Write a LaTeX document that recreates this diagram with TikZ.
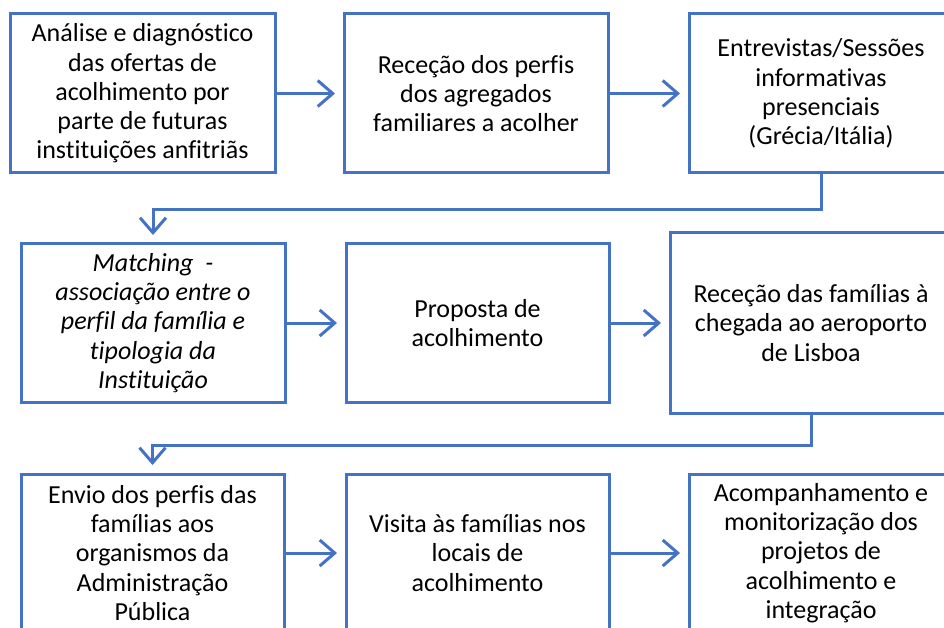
\documentclass[tikz,border=0pt]{standalone}
\usepackage{fontspec}
\setmainfont{Carlito}[Ligatures=NoCommon]
\usetikzlibrary{arrows.meta}
\definecolor{azul}{HTML}{4472C4}

\begin{document}
\begin{tikzpicture}[x=1pt, y=-1pt,
    etapa/.style={draw=azul, line width=3pt, align=center, inner sep=0pt,
      font=\fontsize{26}{29.3}\selectfont},
    seta/.style={draw=azul, line width=3pt, shorten >=7.5pt,
      -{Straight Barb[length=15pt,width=26pt]}}]
  \useasboundingbox (0,0) rectangle (944,628);
  \clip (0,0) rectangle (944,628);
  % primeira linha
  \node[etapa, minimum width=265pt, minimum height=159pt] (b1) at (142.5,93.5)
    {Análise e diagnóstico\\das ofertas de\\acolhimento por\\parte de futuras\\instituições anfitriãs};
  \node[etapa, minimum width=264pt, minimum height=159pt] (b2) at (476,93.5)
    {Receção dos perfis\\dos agregados\\familiares a acolher};
  \node[etapa, minimum width=264pt, minimum height=159pt] (b3) at (821,93.5)
    {Entrevistas/Sessões\\informativas\\presenciais\\(Grécia/Itália)};
  % segunda linha
  \node[etapa, minimum width=264pt, minimum height=158pt] (b4) at (153,323)
    {\itshape Matching~ -\\\itshape associação entre o\\\itshape perfil da família e\\\itshape tipologia da\\\itshape Instituição};
  \node[etapa, minimum width=263pt, minimum height=158pt] (b5) at (477.5,323)
    {Proposta de\\acolhimento};
  \node[etapa, minimum width=282pt, minimum height=180pt] (b6) at (811,323)
    {Receção das famílias à\\chegada ao aeroporto\\de Lisboa};
  % terceira linha
  \node[etapa, minimum width=263pt, minimum height=158pt] (b7) at (152.5,553)
    {Envio dos perfis das\\famílias aos\\organismos da\\Administração\\Pública};
  \node[etapa, minimum width=263pt, minimum height=158pt] (b8) at (477.5,553)
    {Visita às famílias nos\\locais de\\acolhimento};
  \node[etapa, minimum width=264pt, minimum height=158pt] (b9) at (821,553)
    {Acompanhamento e\\monitorização dos\\projetos de\\acolhimento e\\integração};
  % setas
  \draw[seta] (b1) -- (b2);
  \draw[seta] (b2) -- (b3);
  \draw[seta] (b4) -- (b5);
  \draw[seta] (b5) -- (b6);
  \draw[seta] (b7) -- (b8);
  \draw[seta] (b8) -- (b9);
  \draw[seta] (b3.south) -- ++(0,35) -| (b4.north);
  \draw[seta] (b6.south) -- ++(0,31) -| (b7.north);
\end{tikzpicture}
\end{document}
